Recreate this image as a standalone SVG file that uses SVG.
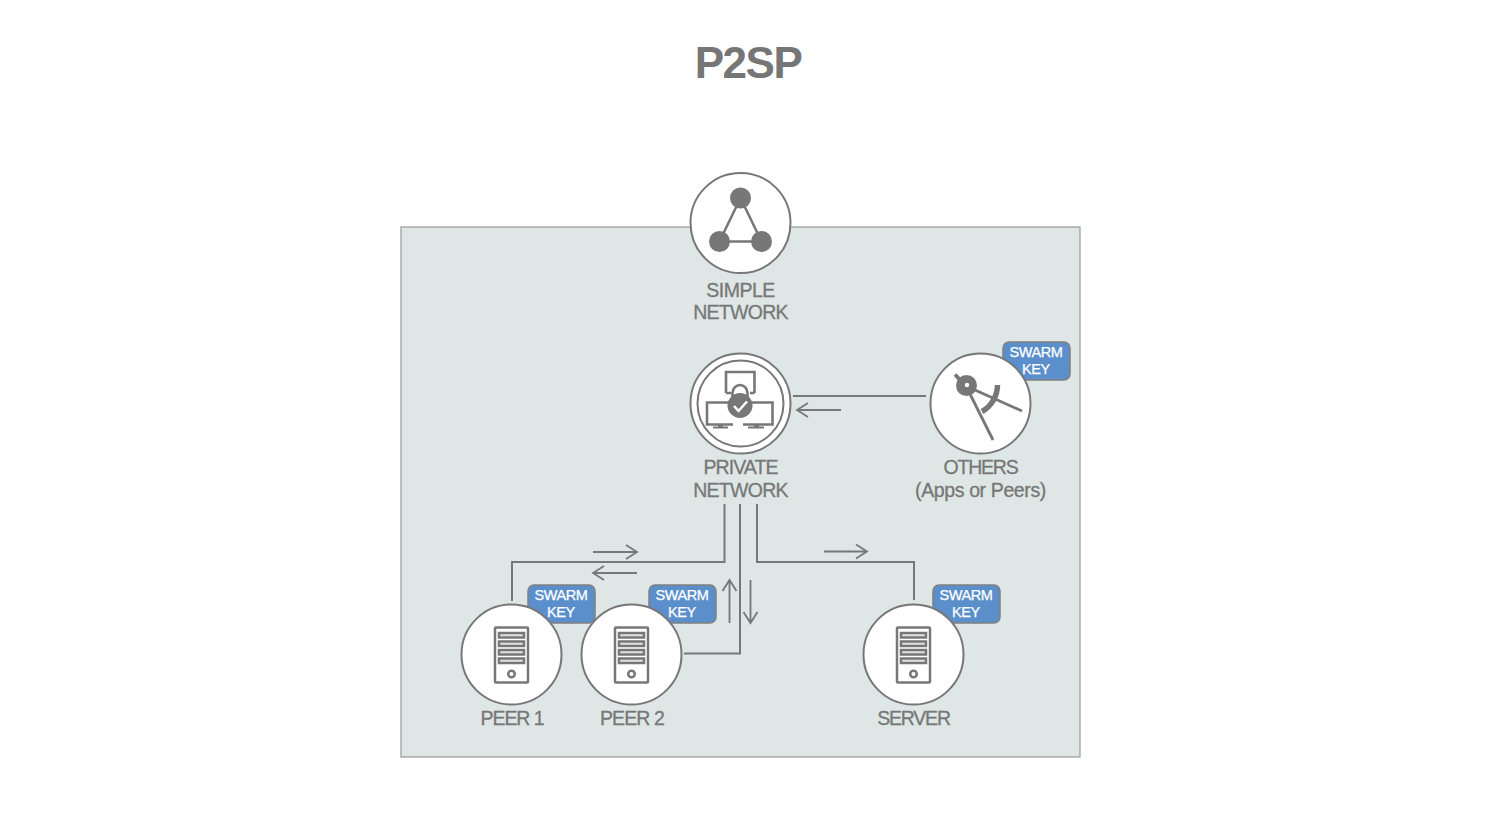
<svg xmlns="http://www.w3.org/2000/svg" xmlns:xlink="http://www.w3.org/1999/xlink" width="1496" height="824" viewBox="0 0 1496 824">
<style>
text{font-family:"Liberation Sans",Arial,sans-serif;text-anchor:middle}
.lbl{font-size:19.5px;fill:#777;stroke:#777;stroke-width:.3px}
.key{font-size:14.5px;fill:#fff;stroke:#fff;stroke-width:.25px;letter-spacing:-.42px}
.ttl{font-size:44px;font-weight:bold;fill:#767676;letter-spacing:-1.5px}
.c{fill:#fff;stroke:#777;stroke-width:2}
.badge{fill:#5b8fcb;stroke:#808080;stroke-width:1.5}
.ln{fill:none;stroke:#777;stroke-width:2}
.ar{fill:none;stroke:#777;stroke-width:1.8}
.sf{fill:#777}
</style>
<defs>
<g id="srv">
<rect x="-16.500" y="-27" width="33" height="55" rx="1" fill="none" stroke="#777" stroke-width="2.500"/>
<g fill="#dfe3e2" stroke="#777" stroke-width="2.500">
<rect x="-12.500" y="-21.500" width="25" height="4.500"/>
<rect x="-12.500" y="-13" width="25" height="4.500"/>
<rect x="-12.500" y="-4.500" width="25" height="4.500"/>
<rect x="-12.500" y="4" width="25" height="4.500"/>
</g>
<circle cx="0" cy="19.500" r="3.300" fill="none" stroke="#777" stroke-width="2.500"/>
</g>
<g id="badge"><rect class="badge" x="0" y="0" width="67" height="38" rx="6"/></g>
</defs>
<rect width="1496" height="824" fill="#fff"/>
<text class="ttl" x="748" y="78">P2SP</text>
<rect id="panel" x="401" y="227" width="679" height="530" fill="#dee7e5" stroke="#999" stroke-width="1.200"/>
<g id="connectors">
<path class="ln" d="M793,396H926"/>
<path class="ln" d="M724.500,504V562H512V601"/>
<path class="ln" d="M740,504V653.500H684"/>
<path class="ln" d="M757,504V562H914V600"/>
<g class="ar">
<path d="M841,410H797M808,403L797,410L808,417"/>
<path d="M593,552H637M626,545L637,552L626,559"/>
<path d="M637,573H593M604,566L593,573L604,580"/>
<path d="M824,551.500H867M856,544.500L867,551.500L856,558.500"/>
<path d="M729.500,623V580M722.500,591L729.500,580L736.500,591"/>
<path d="M750.500,580V623M743.500,612L750.500,623L757.500,612"/>
</g>
</g>
<g id="simple-network">
<circle class="c" cx="740.500" cy="223" r="50"/>
<path d="M740.500,198L719.500,241.500H761.500Z" fill="none" stroke="#777" stroke-width="2.500"/>
<circle class="sf" cx="740.500" cy="198" r="10.500"/>
<circle class="sf" cx="719.500" cy="241.500" r="10.500"/>
<circle class="sf" cx="761.500" cy="241.500" r="10.500"/>
<text class="lbl" style="letter-spacing:-.5px"><tspan x="740.500" y="297">SIMPLE</tspan><tspan x="740.500" y="319" style="letter-spacing:-.72px">NETWORK</tspan></text>
</g>
<g id="private-network">
<circle class="c" cx="740.500" cy="403.500" r="50"/>
<circle cx="740.500" cy="403.500" r="43" fill="none" stroke="#777" stroke-width="2"/>
<g fill="none" stroke="#777" stroke-width="2.600">
<path d="M726,393V372H754.500V393"/>
<path d="M731.500,393H726M750,393H754.500"/>
<path d="M730,402.500H707V424.500H733M751,402.500H772.500V424.500H743"/>
<path d="M732.500,398V393A7.500,8 0 0 1 747.500,393V398"/>
</g>
<g fill="#777">
<rect x="718" y="424" width="5" height="3.500"/><rect x="713" y="426.500" width="15" height="2"/>
<rect x="754" y="424" width="5" height="3.500"/><rect x="748" y="426.500" width="16" height="2"/>
<circle cx="740" cy="405.500" r="12.500"/>
</g>
<path d="M734,406L738.500,411L747,401.500" fill="none" stroke="#fff" stroke-width="2.500"/>
<text class="lbl" style="letter-spacing:-.9px"><tspan x="740.500" y="474">PRIVATE</tspan><tspan x="740.500" y="497" style="letter-spacing:-.72px">NETWORK</tspan></text>
</g>
<g id="others">
<use xlink:href="#badge" href="#badge" x="1003" y="342"/>
<text class="key"><tspan x="1036" y="357">SWARM</tspan><tspan x="1036" y="374">KEY</tspan></text>
<circle class="c" cx="980.500" cy="403.500" r="50"/>
<g fill="none" stroke="#777">
<path d="M966,386L993,440" stroke-width="2.800"/>
<path d="M966,386L1022,411" stroke-width="2.800"/>
<path d="M997.500,385A31,31 0 0 1 982,411.500" stroke="#777" stroke-width="5.500"/>
<path d="M955,374.500L961,381" stroke-width="4"/>
</g>
<circle class="sf" cx="966.500" cy="385.500" r="10.500"/>
<circle cx="967" cy="385" r="2.200" fill="#fff"/>
<text class="lbl" style="letter-spacing:-1.2px"><tspan x="980.500" y="474">OTHERS</tspan><tspan x="980.500" y="497" style="letter-spacing:-.38px">(Apps or Peers)</tspan></text>
</g>
<g id="peer-1">
<use xlink:href="#badge" href="#badge" x="528" y="585"/>
<text class="key"><tspan x="561" y="600">SWARM</tspan><tspan x="561" y="617">KEY</tspan></text>
<circle class="c" cx="511.500" cy="654.500" r="50"/>
<use xlink:href="#srv" href="#srv" x="511.500" y="654.500"/>
<text class="lbl" x="512" y="725" style="letter-spacing:-1.1px">PEER 1</text>
</g>
<g id="peer-2">
<use xlink:href="#badge" href="#badge" x="649" y="585"/>
<text class="key"><tspan x="682" y="600">SWARM</tspan><tspan x="682" y="617">KEY</tspan></text>
<circle class="c" cx="631.500" cy="654.500" r="50"/>
<use xlink:href="#srv" href="#srv" x="631.500" y="654.500"/>
<text class="lbl" x="632" y="725" style="letter-spacing:-.9px">PEER 2</text>
</g>
<g id="server">
<use xlink:href="#badge" href="#badge" x="933" y="585"/>
<text class="key"><tspan x="966" y="600">SWARM</tspan><tspan x="966" y="617">KEY</tspan></text>
<circle class="c" cx="913.500" cy="654.500" r="50"/>
<use xlink:href="#srv" href="#srv" x="913.500" y="654.500"/>
<text class="lbl" x="913.500" y="725" style="letter-spacing:-1.2px">SERVER</text>
</g>
</svg>
